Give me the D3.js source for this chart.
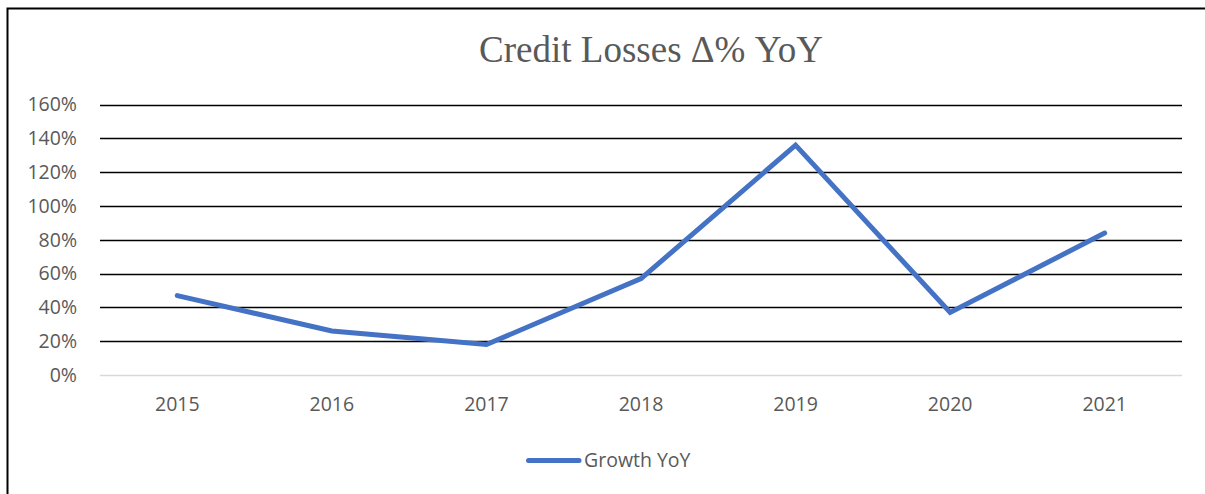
<!DOCTYPE html>
<html>
<head>
<meta charset="utf-8">
<script src="https://cdn.jsdelivr.net/npm/d3@7"></script>
<style>
  html, body { margin: 0; padding: 0; background: #fff; }
  svg { display: block; }
</style>
</head>
<body>
<div id="chart"></div>
<script>
// 데이터
const years = ['2015', '2016', '2017', '2018', '2019', '2020', '2021'];
const growth = [0.47, 0.26, 0.18, 0.57, 1.36, 0.37, 0.84];
const yTicks = [0, 0.2, 0.4, 0.6, 0.8, 1.0, 1.2, 1.4, 1.6];
const seriesName = 'Growth YoY';
const titleText = 'Credit Losses Δ% YoY';

const width = 1205, height = 494;
const plot = { left: 100, right: 1182, top: 104.6, bottom: 375 };
const labelFont = '"Open Sans", "Liberation Sans", sans-serif';

const svg = d3.select('#chart')
    .append('svg')
    .attr('width', width)
    .attr('height', height);

// 바깥 테두리 (왼쪽, 위쪽만 보임)
svg.append('path')
    .attr('d', `M7.5,${height} V8.5 H${width}`)
    .attr('fill', 'none')
    .attr('stroke', '#000')
    .attr('stroke-width', 2);

const x = d3.scaleBand()
    .domain(years)
    .range([plot.left, plot.right]);

const y = d3.scaleLinear()
    .domain([0, 1.6])
    .range([plot.bottom, plot.top]);

// 제목
svg.append('text')
    .attr('x', 651)
    .attr('y', 62)
    .attr('text-anchor', 'middle')
    .attr('font-family', '"Liberation Serif", "Times New Roman", serif')
    .attr('font-size', '37px')
    .attr('fill', '#595959')
    .text(titleText);

// 가로 격자선
svg.append('g')
    .selectAll('line')
    .data(yTicks)
    .join('line')
    .attr('x1', plot.left)
    .attr('x2', plot.right)
    .attr('y1', d => Math.round(y(d)) + 0.5)
    .attr('y2', d => Math.round(y(d)) + 0.5)
    .attr('stroke', d => d === 0 ? '#d9d9d9' : '#000')
    .attr('stroke-width', d => d === 0 ? 1.5 : 1.6);

// y축 레이블
const yAxis = d3.axisLeft(y)
    .tickValues(yTicks)
    .tickFormat(d3.format('.0%'))
    .tickSize(0)
    .tickPadding(0);

svg.append('g')
    .attr('transform', `translate(77,0)`)
    .call(yAxis)
    .call(g => g.select('.domain').remove())
    .selectAll('text')
    .attr('font-family', labelFont)
    .attr('font-size', '19.5px')
    .attr('fill', '#595959');

// x축 레이블
const xAxis = d3.axisBottom(x).tickSize(0).tickPadding(0);
svg.append('g')
    .attr('transform', `translate(0,${plot.bottom + 22})`)
    .call(xAxis)
    .call(g => g.select('.domain').remove())
    .selectAll('text')
    .attr('dy', '0.71em')
    .attr('font-family', labelFont)
    .attr('font-size', '19.5px')
    .attr('fill', '#595959');

// 선
const line = d3.line()
    .x((d, i) => x(years[i]) + x.bandwidth() / 2)
    .y(d => y(d));

svg.append('path')
    .datum(growth)
    .attr('d', line)
    .attr('fill', 'none')
    .attr('stroke', '#4472C4')
    .attr('stroke-width', 5)
    .attr('stroke-linejoin', 'miter')
    .attr('stroke-linecap', 'round');

// 범례
const legend = svg.append('g').attr('transform', 'translate(527,460)');
legend.append('line')
    .attr('x1', 1.5).attr('x2', 52)
    .attr('y1', 0.5).attr('y2', 0.5)
    .attr('stroke', '#4472C4')
    .attr('stroke-width', 5)
    .attr('stroke-linecap', 'round');
legend.append('text')
    .attr('x', 57)
    .attr('y', 0)
    .attr('dy', '0.35em')
    .attr('font-family', labelFont)
    .attr('font-size', '19.5px')
    .attr('fill', '#595959')
    .text(seriesName);
</script>
</body>
</html>
